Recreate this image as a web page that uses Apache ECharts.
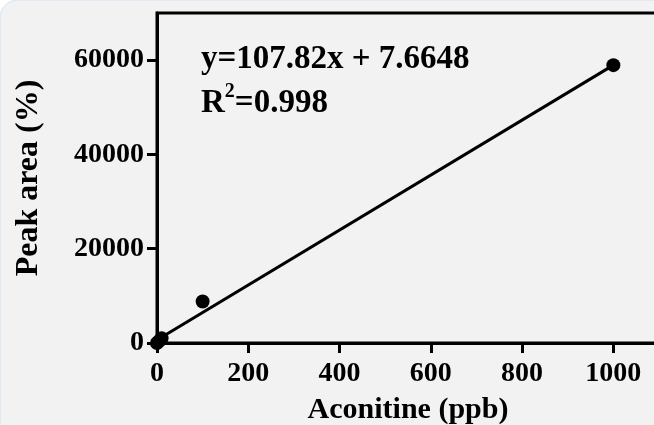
<!DOCTYPE html>
<html>
<head>
<meta charset="utf-8">
<script src="https://cdn.jsdelivr.net/npm/echarts@6/dist/echarts.min.js"></script>
<style>
  html, body { margin: 0; padding: 0; background: #ffffff; }
  #chart { width: 654px; height: 425px; }
</style>
</head>
<body>
<div id="chart"></div>
<script>
// calibration points (ppb, peak area)
const concX = [0, 5, 10, 100, 1000]
const areaY = [0, 450, 1000, 8800, 58940]

// fitted line ends
const fitX = [0, 1000]
const fitY = [640, 58940]

// tick labels
const xTicks = [0, 200, 400, 600, 800, 1000]
const yTicks = [0, 20000, 40000, 60000]

const equationText = 'y=107.82x + 7.6648'
const r2Value = '=0.998'

const font = "'Liberation Serif', 'Times New Roman', serif"

const chart = echarts.init(document.getElementById('chart'))

const option = {
  backgroundColor: 'transparent',
  animation: false,
  grid: {
    left: 157,
    top: 13,
    right: -5,
    bottom: 82,
    containLabel: false,
    outerBoundsMode: 'none',
    show: true,
    borderColor: '#000',
    borderWidth: 3,
    backgroundColor: 'transparent'
  },
  xAxis: {
    type: 'value',
    min: 0,
    max: 1100,
    name: 'Aconitine (ppb)',
    nameLocation: 'middle',
    nameGap: 52,
    nameTextStyle: { fontFamily: font, fontWeight: 'bold', fontSize: 30, color: '#000' },
    axisLine: { show: true, lineStyle: { color: '#000', width: 3 } },
    axisTick: { show: true, length: 10, lineStyle: { color: '#000', width: 3 }, customValues: xTicks },
    axisLabel: {
      fontFamily: font, fontWeight: 'bold', fontSize: 28, color: '#000', margin: 17,
      customValues: xTicks, formatter: (v) => String(v)
    },
    splitLine: { show: false }
  },
  yAxis: {
    type: 'value',
    min: 0,
    max: 70000,
    name: 'Peak area (%)',
    nameLocation: 'middle',
    nameGap: 112,
    nameTextStyle: { fontFamily: font, fontWeight: 'bold', fontSize: 32, color: '#000' },
    axisLine: { show: true, lineStyle: { color: '#000', width: 3 } },
    axisTick: { show: true, length: 10, lineStyle: { color: '#000', width: 3 }, customValues: yTicks },
    axisLabel: {
      fontFamily: font, fontWeight: 'bold', fontSize: 28, color: '#000', margin: 13,
      customValues: yTicks, formatter: (v) => String(v)
    },
    splitLine: { show: false }
  },
  graphic: [
    {
      type: 'rect',
      z: -10,
      silent: true,
      shape: { x: 0, y: 0, width: 700, height: 480, r: 18 },
      style: { fill: '#f2f2f2', stroke: '#cfe2f3', lineWidth: 1 }
    },
    {
      type: 'text',
      left: 201,
      top: 43,
      z: 10,
      style: {
        text: '{a|' + equationText + '}\n{a|R}{s|2}{a|' + r2Value + '}',
        rich: {
          a: { fontFamily: font, fontWeight: 'bold', fontSize: 33, color: '#000', lineHeight: 44 },
          s: { fontFamily: font, fontWeight: 'bold', fontSize: 20, color: '#000', verticalAlign: 'top', lineHeight: 44 }
        }
      }
    }
  ],
  series: [
    {
      type: 'line',
      data: fitX.map((x, i) => [x, fitY[i]]),
      showSymbol: false,
      symbol: 'none',
      lineStyle: { color: '#000', width: 3 },
      z: 2
    },
    {
      type: 'scatter',
      data: concX.map((x, i) => [x, areaY[i]]),
      symbol: 'circle',
      symbolSize: 14,
      itemStyle: { color: '#000', opacity: 1 },
      clip: false,
      z: 3
    }
  ]
}

chart.setOption(option)
</script>
</body>
</html>
